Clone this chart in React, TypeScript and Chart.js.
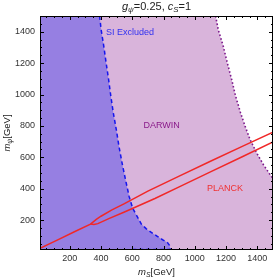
import React, { useEffect, useRef } from "react";
import { Chart, registerables } from "chart.js";

Chart.register(...registerables);

// axis setup
const xMin = 10;
const xMax = 1500;
const yMin = 10;
const yMax = 1500;
const xTicks = [200, 400, 600, 800, 1000, 1200, 1400];
const yTicks = [200, 400, 600, 800, 1000, 1200, 1400];

// SI excluded boundary (dashed blue)
const siX = [391, 401, 418, 433, 449, 463, 479, 498, 515, 535, 557, 580, 603, 630, 658, 690, 722, 760, 795, 825, 838, 845];
const siY = [1500, 1413, 1307, 1201, 1094, 989, 882, 776, 670, 563, 457, 351, 275, 226, 175, 145, 122, 97, 75, 57, 40, 12];
const siBottomX = [600, 845];
const siBottomY = [13, 13];

// DARWIN reach boundary (dotted purple)
const darwinX = [1133, 1150, 1182, 1208, 1236, 1261, 1293, 1322, 1354, 1396, 1439, 1482, 1500];
const darwinY = [1500, 1413, 1307, 1201, 1094, 989, 882, 797, 712, 627, 553, 489, 465];

// PLANCK relic-density contour (red)
const planckUpperX = [10, 120, 230, 333, 370, 400, 470, 550, 700, 900, 1100, 1300, 1500];
const planckUpperY = [20, 73, 126, 175, 205, 225, 265, 305, 385, 480, 575, 668, 760];
const planckLowerX = [333, 355, 380, 450, 550, 745, 900, 1100, 1300, 1500];
const planckLowerY = [175, 173, 178, 210, 252, 338, 412, 507, 602, 698];

// text labels inside the plot
const labelTexts = ["SI Excluded", "DARWIN", "PLANCK"];
const labelX = [585, 788, 1193];
const labelY = [1398, 801, 402];
const labelColors = ["#3030f0", "#8a1a8a", "#f03030"];

const BLUE_FILL = "rgb(150,127,226)";
const PINK_FILL = "rgb(217,180,219)";

const FONT = "'Liberation Sans', Arial, sans-serif";

type Seg = { t: string; it?: boolean; sub?: boolean };

function drawRich(ctx: CanvasRenderingContext2D, segs: Seg[], cx: number, cy: number, size: number, color: string) {
  const subSize = size * 0.72;
  const fontOf = (s: Seg) => `${s.it ? "italic " : ""}${s.sub ? subSize : size}px ${FONT}`;
  let total = 0;
  const widths = segs.map((s) => {
    ctx.font = fontOf(s);
    const w = ctx.measureText(s.t).width;
    total += w;
    return w;
  });
  let x = cx - total / 2;
  ctx.fillStyle = color;
  ctx.textBaseline = "middle";
  ctx.textAlign = "left";
  segs.forEach((s, i) => {
    ctx.font = fontOf(s);
    ctx.fillText(s.t, x, s.sub ? cy + size * 0.3 : cy);
    x += widths[i];
  });
}

const framePlugin = {
  id: "frameAndText",
  afterDatasetsDraw(chart: any) {
    const { ctx, chartArea, scales } = chart;
    const xs = scales.x;
    const ys = scales.y;
    ctx.save();
    // labels
    ctx.textAlign = "center";
    ctx.textBaseline = "middle";
    ctx.font = `9px ${FONT}`;
    labelTexts.forEach((t, i) => {
      ctx.fillStyle = labelColors[i];
      ctx.fillText(t, xs.getPixelForValue(labelX[i]), ys.getPixelForValue(labelY[i]));
    });
    // frame
    ctx.strokeStyle = "#000";
    ctx.lineWidth = 1;
    ctx.strokeRect(chartArea.left + 0.5, chartArea.top + 0.5, chartArea.right - chartArea.left - 1, chartArea.bottom - chartArea.top - 1);
    // ticks inward
    ctx.beginPath();
    for (let v = 50; v < xMax; v += 50) {
      const major = v % 200 === 0;
      const len = major ? 4 : 2;
      const px = Math.round(xs.getPixelForValue(v)) + 0.5;
      ctx.moveTo(px, chartArea.bottom);
      ctx.lineTo(px, chartArea.bottom - len);
      ctx.moveTo(px, chartArea.top);
      ctx.lineTo(px, chartArea.top + len);
    }
    for (let v = 50; v < yMax; v += 50) {
      const major = v % 200 === 0;
      const len = major ? 4 : 2;
      const py = Math.round(ys.getPixelForValue(v)) + 0.5;
      ctx.moveTo(chartArea.left, py);
      ctx.lineTo(chartArea.left + len, py);
      ctx.moveTo(chartArea.right, py);
      ctx.lineTo(chartArea.right - len, py);
    }
    ctx.stroke();
    ctx.restore();
  },
  afterDraw(chart: any) {
    const { ctx, chartArea } = chart;
    ctx.save();
    drawRich(
      ctx,
      [{ t: "g", it: true }, { t: "ψ", it: true, sub: true }, { t: "=0.25, " }, { t: "c", it: true }, { t: "S", it: true, sub: true }, { t: "=1" }],
      (chartArea.left + chartArea.right) / 2,
      7,
      11,
      "#222"
    );
    drawRich(
      ctx,
      [{ t: "m", it: true }, { t: "S", it: true, sub: true }, { t: "[GeV]" }],
      (chartArea.left + chartArea.right) / 2,
      272,
      9.5,
      "#222"
    );
    ctx.translate(7, (chartArea.top + chartArea.bottom) / 2);
    ctx.rotate(-Math.PI / 2);
    drawRich(ctx, [{ t: "m", it: true }, { t: "ψ", it: true, sub: true }, { t: "[GeV]" }], 0, 0, 9.5, "#222");
    ctx.restore();
  },
};

const pts = (xs: number[], ys: number[]) => xs.map((x, i) => ({ x, y: ys[i] }));

export default function App() {
  const ref = useRef<HTMLCanvasElement | null>(null);
  useEffect(() => {
    document.body.style.margin = "0";
    const canvas = ref.current!;
    const siLine = pts(siX, siY);
    const darwinLine = pts(darwinX, darwinY);
    const chart = new Chart(canvas, {
      type: "scatter",
      data: {
        datasets: [
          {
            data: [{ x: xMin, y: yMax }, ...darwinLine],
            showLine: true,
            fill: "start",
            backgroundColor: PINK_FILL,
            borderWidth: 0,
            pointRadius: 0,
            order: 10,
          },
          {
            data: [{ x: xMin, y: yMax }, ...siLine],
            showLine: true,
            fill: "start",
            backgroundColor: BLUE_FILL,
            borderWidth: 0,
            pointRadius: 0,
            order: 9,
          },
          {
            data: siLine,
            showLine: true,
            fill: false,
            borderColor: "#1515ee",
            borderWidth: 1.5,
            borderDash: [4, 3],
            pointRadius: 0,
            order: 5,
          },
          {
            data: pts(siBottomX, siBottomY),
            showLine: true,
            fill: false,
            borderColor: "#1515ee",
            borderWidth: 1.5,
            borderDash: [4, 3],
            pointRadius: 0,
            order: 5,
          },
          {
            data: darwinLine,
            showLine: true,
            fill: false,
            borderColor: "#7d1a8c",
            borderWidth: 1.6,
            borderDash: [1.6, 2.2],
            pointRadius: 0,
            order: 5,
          },
          {
            data: pts(planckUpperX, planckUpperY),
            showLine: true,
            fill: false,
            borderColor: "#f02828",
            borderWidth: 1.5,
            pointRadius: 0,
            order: 2,
          },
          {
            data: pts(planckLowerX, planckLowerY),
            showLine: true,
            fill: false,
            borderColor: "#f02828",
            borderWidth: 1.5,
            pointRadius: 0,
            order: 2,
          },
        ],
      },
      options: {
        animation: false,
        responsive: false,
        devicePixelRatio: 1,
        layout: { padding: { top: 16, right: 1, left: 0, bottom: 0 } },
        plugins: { legend: { display: false }, tooltip: { enabled: false }, title: { display: false } },
        scales: {
          x: {
            type: "linear",
            min: xMin,
            max: xMax,
            grid: { display: false, drawTicks: false },
            border: { display: false },
            ticks: { font: { family: FONT, size: 9 }, color: "#333", padding: 3, maxRotation: 0, callback: (v: any) => String(v) },
            afterBuildTicks: (s: any) => {
              s.ticks = xTicks.map((v) => ({ value: v }));
            },
            afterFit: (s: any) => {
              s.height = 29;
            },
          },
          y: {
            type: "linear",
            min: yMin,
            max: yMax,
            grid: { display: false, drawTicks: false },
            border: { display: false },
            ticks: { font: { family: FONT, size: 9 }, color: "#333", padding: 5, callback: (v: any) => String(v) },
            afterBuildTicks: (s: any) => {
              s.ticks = yTicks.map((v) => ({ value: v }));
            },
            afterFit: (s: any) => {
              s.width = 40;
            },
          },
        },
      },
      plugins: [framePlugin],
    } as any);
    return () => chart.destroy();
  }, []);
  return (
    <div style={{ width: 274, height: 279 }}>
      <canvas ref={ref} width={274} height={279} style={{ display: "block" }} />
    </div>
  );
}
